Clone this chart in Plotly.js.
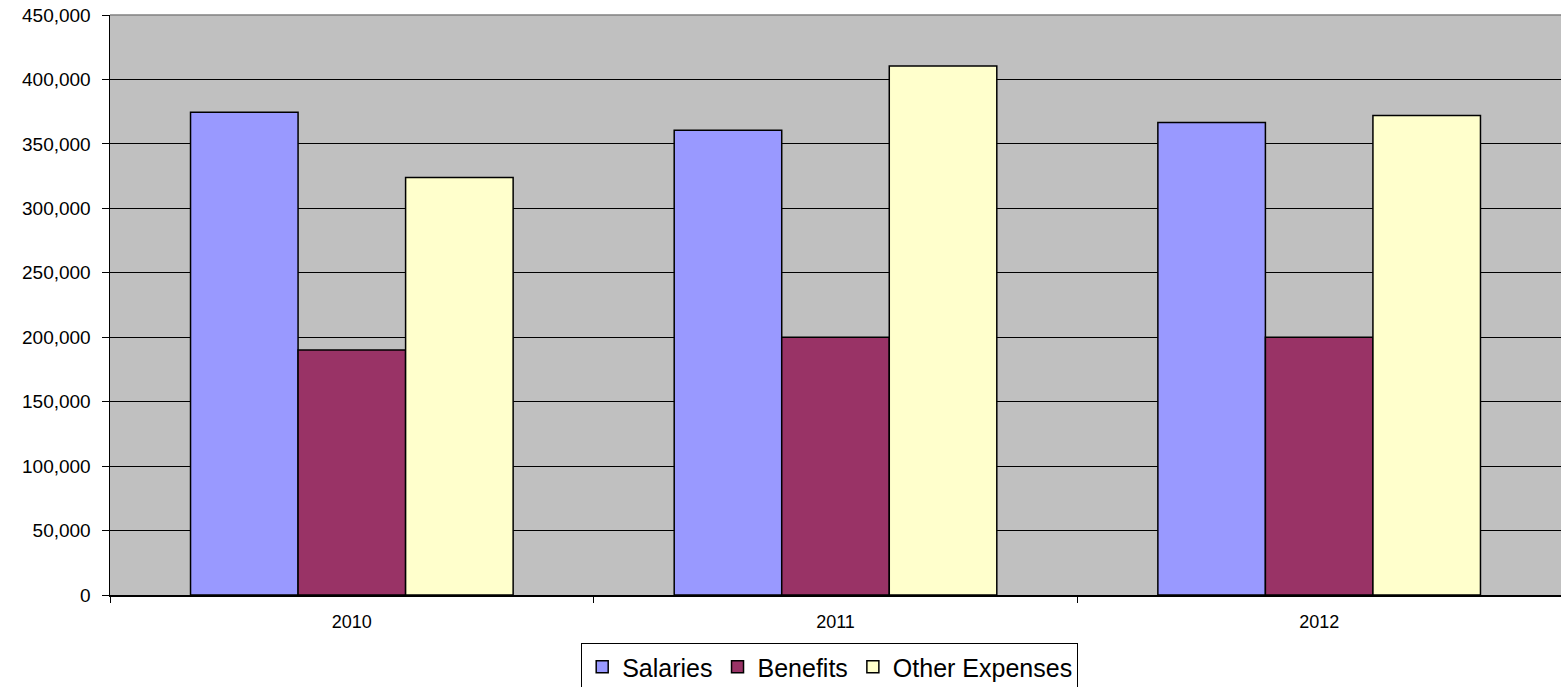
<!DOCTYPE html>
<html>
<head>
<meta charset="utf-8">
<script src="https://cdn.plot.ly/plotly-3.0.1.min.js"></script>
<style>html,body{margin:0;padding:0;background:#fff;}#chart{width:1561px;height:687px;}</style>
</head>
<body>
<div id="chart"></div>
<script>
const categories = ["2010", "2011", "2012"];
const salaries = [374500, 360500, 366500];
const benefits = [190000, 200000, 200000];
const otherExpenses = [324000, 410500, 372000];
const yTickValues = [0, 50000, 100000, 150000, 200000, 250000, 300000, 350000, 400000, 450000];
const yTickLabels = ["0", "50,000", "100,000", "150,000", "200,000", "250,000", "300,000", "350,000", "400,000", "450,000"];

const FONT = "Liberation Sans, Arial, sans-serif";
const outline = {color: "#000000", width: 1.5};

const traces = [
  {type: "bar", name: "Salaries", x: categories, y: salaries, marker: {color: "#9999FF", line: outline}},
  {type: "bar", name: "Benefits", x: categories, y: benefits, marker: {color: "#993366", line: outline}},
  {type: "bar", name: "Other Expenses", x: categories, y: otherExpenses, marker: {color: "#FFFFCC", line: outline}}
];

const layout = {
  width: 1561, height: 687,
  margin: {l: 110, r: 0, t: 15, b: 92, pad: 0, autoexpand: false},
  paper_bgcolor: "#FFFFFF",
  plot_bgcolor: "#C0C0C0",
  barmode: "group",
  bargap: 0.333,
  bargroupgap: 0,
  showlegend: true,
  font: {family: FONT, color: "#000000"},
  xaxis: {
    type: "category",
    automargin: false,
    showgrid: false,
    showline: true, linecolor: "#000000", linewidth: 1.5,
    ticks: "outside", tickson: "boundaries", ticklen: 6, tickcolor: "#000000", tickwidth: 1,
    tickfont: {family: FONT, size: 18, color: "#000000"},
    ticklabelstandoff: 10,
    zeroline: false
  },
  yaxis: {
    range: [0, 450000],
    automargin: false,
    tickvals: yTickValues, ticktext: yTickLabels,
    showgrid: true, gridcolor: "#000000", gridwidth: 1,
    showline: true, linecolor: "#000000", linewidth: 1.5,
    ticks: "outside", ticklen: 7, tickcolor: "#000000", tickwidth: 1,
    tickfont: {family: FONT, size: 19, color: "#000000"},
    ticklabelstandoff: 7,
    zeroline: false
  },
  legend: {
    orientation: "h",
    x: 0.496, xanchor: "center",
    yref: "container",
    y: 0.064, yanchor: "top",
    bgcolor: "#FFFFFF", bordercolor: "#000000", borderwidth: 1,
    font: {family: FONT, size: 25, color: "#000000"},
    itemwidth: 30,
    traceorder: "normal"
  },
  shapes: [
    {type: "line", xref: "paper", yref: "paper", x0: 0, x1: 1, y0: 1, y1: 1, line: {color: "#808080", width: 1.5}}
  ]
};

Plotly.newPlot("chart", traces, layout, {displayModeBar: false, staticPlot: true});
</script>
</body>
</html>
